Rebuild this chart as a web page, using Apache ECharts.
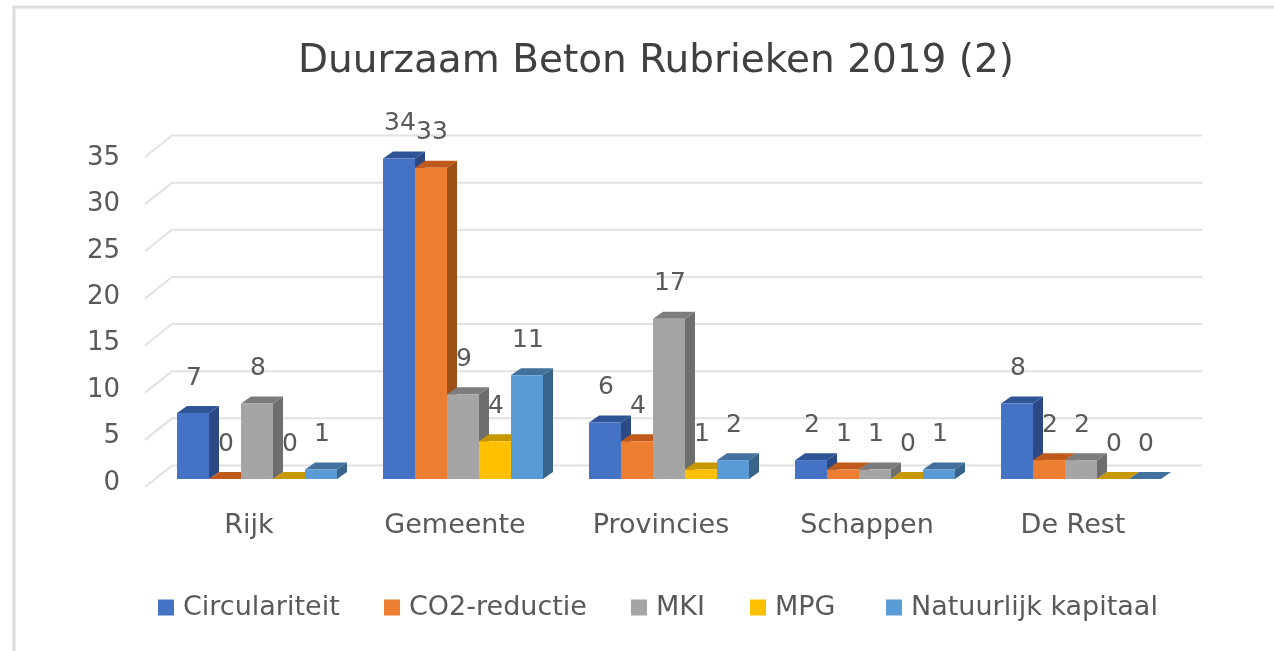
<!DOCTYPE html>
<html>
<head>
    <meta charset="utf-8">
    <title>Duurzaam Beton Rubrieken 2019 (2)</title>
    <script type="text/javascript" src="https://cdn.jsdelivr.net/npm/echarts@6/dist/echarts.min.js"></script>
    <style>
        html, body { margin: 0; padding: 0; background: #fff; }
        /* the reference is a soft, upscaled screenshot */
        #main { width: 1274px; height: 651px; filter: blur(0.7px); }
    </style>
</head>
<body>
<div id="main"></div>
<script type="text/javascript">
var categories = ['Rijk', 'Gemeente', 'Provincies', 'Schappen', 'De Rest'];
var circulariteit = [7, 34, 6, 2, 8];
var co2Reductie = [0, 33, 4, 1, 2];
var mki = [8, 9, 17, 1, 2];
var mpg = [0, 4, 1, 0, 0];
var natuurlijkKapitaal = [1, 11, 2, 1, 0];
var seriesNames = ['Circulariteit', 'CO2-reductie', 'MKI', 'MPG', 'Natuurlijk kapitaal'];
var seriesValues = [circulariteit, co2Reductie, mki, mpg, natuurlijkKapitaal];
var yTicks = [0, 5, 10, 15, 20, 25, 30, 35];

var frontColors = ['#4472C4', '#ED7D31', '#A5A5A5', '#FFC000', '#5B9BD5'];
var topColors = ['#2F5597', '#C05A1C', '#7C7C7C', '#C79800', '#41719C'];
var sideColors = ['#2B4A85', '#9C5018', '#6E6E6E', '#A67F00', '#38648C'];
var legendLefts = [153, 379, 626, 745, 881];

var fontName = '"DejaVu Sans", sans-serif';
var textColor = '#595959';
var barWidth = 32;
var depthX = 10;
var depthY = 7;

// one 3d looking bar: front, top, side and the value label behind all bars
function renderBar(seriesIndex) {
    return function (params, api) {
        var cat = api.value(0);
        var val = api.value(1);
        var top = api.coord([cat, val]);
        var base = api.coord([cat, 0]);
        var x = top[0] - barWidth * 2.5 + seriesIndex * barWidth;
        var y = top[1];
        var b = base[1];
        var w = barWidth;
        return {
            type: 'group',
            children: [
                {
                    type: 'text',
                    z2: 1,
                    x: x + w / 2 + 1,
                    y: y - 35,
                    style: {
                        text: String(val),
                        fontFamily: fontName,
                        fontSize: 25,
                        fill: textColor,
                        align: 'center',
                        verticalAlign: 'middle'
                    }
                },
                {
                    type: 'polygon',
                    z2: 10 + seriesIndex,
                    shape: { points: [[x + w, y], [x + w, b], [x + w + depthX, b - depthY], [x + w + depthX, y - depthY]] },
                    style: { fill: sideColors[seriesIndex] }
                },
                {
                    type: 'polygon',
                    z2: 10 + seriesIndex,
                    shape: { points: [[x, y], [x + w, y], [x + w + depthX, y - depthY], [x + depthX, y - depthY]] },
                    style: { fill: topColors[seriesIndex] }
                },
                {
                    type: 'polygon',
                    z2: 10 + seriesIndex,
                    shape: { points: [[x, y], [x + w, y], [x + w, b], [x, b]] },
                    style: { fill: frontColors[seriesIndex] }
                }
            ]
        };
    };
}

// gridline on the back wall with its slanted piece on the side wall
function renderWall(params, api) {
    var y = api.coord([0, api.value(1)])[1];
    var sys = params.coordSys;
    return {
        type: 'polyline',
        shape: { points: [[sys.x - 9, y + 8], [sys.x + 18, y - 13.5], [sys.x + sys.width + 18, y - 13.5]] },
        style: { stroke: '#E2E2E2', lineWidth: 2, fill: null }
    };
}

var series = [{
    name: 'wall',
    type: 'custom',
    z: 1,
    silent: true,
    renderItem: renderWall,
    encode: { x: 0, y: 1 },
    data: yTicks.map(function (t) { return [0, t]; })
}];

seriesNames.forEach(function (name, i) {
    series.push({
        name: name,
        type: 'custom',
        itemStyle: { color: frontColors[i] },
        renderItem: renderBar(i),
        encode: { x: 0, y: 1 },
        data: seriesValues[i].map(function (v, k) { return [k, v]; })
    });
});

// one legend per entry, the gaps in the reference are not even
var legends = seriesNames.map(function (name, i) {
    return {
        left: legendLefts[i],
        top: 589,
        icon: 'rect',
        itemWidth: 16,
        itemHeight: 16,
        itemStyle: { borderWidth: 0 },
        selectedMode: false,
        data: [name],
        textStyle: { fontFamily: fontName, fontSize: 27, color: textColor, padding: [0, 0, 0, 4] }
    };
});

var option = {
    animation: false,
    backgroundColor: '#fff',
    title: {
        text: 'Duurzaam Beton Rubrieken 2019 (2)',
        left: 651,
        top: 37,
        textAlign: 'center',
        textStyle: { fontFamily: fontName, fontSize: 39, fontWeight: 'normal', color: '#404040' }
    },
    legend: legends,
    grid: [
        { left: 154, width: 1030, top: 149, height: 330 },
        { left: 154, width: 1030, top: 158, height: 325 }
    ],
    xAxis: [
        {
            type: 'category',
            gridIndex: 0,
            data: categories,
            axisLine: { show: false },
            axisTick: { show: false },
            axisLabel: {
                margin: 33,
                padding: [0, 16, 0, 0],
                fontFamily: fontName,
                fontSize: 27,
                color: textColor
            }
        },
        { type: 'category', gridIndex: 1, show: false, data: categories }
    ],
    yAxis: [
        {
            type: 'value',
            gridIndex: 0,
            min: 0,
            max: 35,
            interval: 5,
            axisLabel: { show: false },
            axisLine: { show: false },
            axisTick: { show: false },
            splitLine: { show: false }
        },
        {
            type: 'value',
            gridIndex: 1,
            min: 0,
            max: 35,
            interval: 5,
            axisLine: { show: false },
            axisTick: { show: false },
            splitLine: { show: false },
            axisLabel: { margin: 34, fontFamily: fontName, fontSize: 26, color: textColor }
        }
    ],
    graphic: [{
        type: 'polyline',
        silent: true,
        shape: { points: [[14, 651], [14, 7], [1274, 7]] },
        style: { stroke: '#DCDCDC', lineWidth: 3, fill: null }
    }],
    series: series
};

var myChart = echarts.init(document.getElementById('main'));
myChart.setOption(option);
</script>
</body>
</html>
